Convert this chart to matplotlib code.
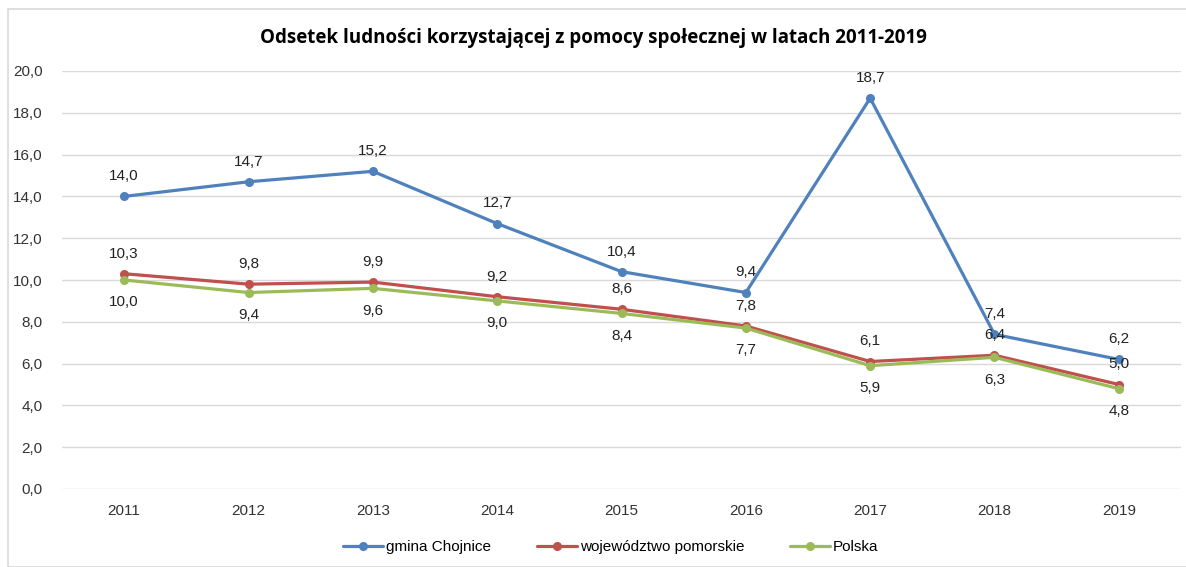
import matplotlib
matplotlib.use("Agg")
import matplotlib.pyplot as plt
from matplotlib.patches import Rectangle

years = ["2011", "2012", "2013", "2014", "2015", "2016", "2017", "2018", "2019"]
gmina = [14.0, 14.7, 15.2, 12.7, 10.4, 9.4, 18.7, 7.4, 6.2]
woj = [10.3, 9.8, 9.9, 9.2, 8.6, 7.8, 6.1, 6.4, 5.0]
polska = [10.0, 9.4, 9.6, 9.0, 8.4, 7.7, 5.9, 6.3, 4.8]
series_names = ["gmina Chojnice", "województwo pomorskie", "Polska"]
title = "Odsetek ludności korzystającej z pomocy społecznej w latach 2011-2019"

colors = ["#4F81BD", "#C0504D", "#9BBB59"]

plt.rcParams['font.family'] = ['Liberation Sans', 'DejaVu Sans']

fig = plt.figure(figsize=(11.86, 5.67), dpi=100)
ax = fig.add_axes([62/1186, 1 - 489/567, (1181-62)/1186, (489-71)/567])

x = list(range(len(years)))
for vals, name, c in zip([gmina, woj, polska], series_names, colors):
    ax.plot(x, vals, color=c, lw=2.3, marker='o', ms=5.5, label=name,
            solid_capstyle='round', zorder=3)

def fmt(v):
    return f"{v:.1f}".replace('.', ',')

lab_fs = 11
for i, v in enumerate(gmina):
    ax.annotate(fmt(v), (i, v), xytext=(0, 14.5), textcoords='offset points',
                ha='center', va='center', fontsize=lab_fs, color='#222222')
for i, v in enumerate(woj):
    ax.annotate(fmt(v), (i, v), xytext=(0, 14.5), textcoords='offset points',
                ha='center', va='center', fontsize=lab_fs, color='#222222')
for i, v in enumerate(polska):
    ax.annotate(fmt(v), (i, v), xytext=(0, -16), textcoords='offset points',
                ha='center', va='center', fontsize=lab_fs, color='#222222')

ax.set_xlim(-0.5, len(years) - 0.5)
ax.set_ylim(0, 20)
ax.set_yticks([0, 2, 4, 6, 8, 10, 12, 14, 16, 18, 20])
ax.set_yticklabels([fmt(t) for t in ax.get_yticks()], fontsize=11, color='#333333')
ax.set_xticks(x)
ax.set_xticklabels(years, fontsize=11, color='#333333')
ax.tick_params(axis='both', length=0)
ax.tick_params(axis='y', pad=14)
ax.tick_params(axis='x', pad=11)
ax.grid(axis='y', color='#D9D9D9', lw=1)
ax.set_axisbelow(True)
for s in ax.spines.values():
    s.set_visible(False)

fig.text(0.5, 1 - 38/567, title, ha='center', va='center', fontsize=13.5,
         fontweight='bold', family=['Open Sans', 'DejaVu Sans'])

leg = fig.legend(loc='center', bbox_to_anchor=(0.515, 1 - 547/567), ncol=3,
                 frameon=False, fontsize=11, handlelength=2.6, columnspacing=3,
                 handletextpad=0.2)

fig.patches.append(Rectangle((8/1186, 0), 1.0, 1 - 9/567, transform=fig.transFigure,
                             fill=False, edgecolor='#D9D9D9', lw=1.2))

fig.savefig("out.png", dpi=100)
